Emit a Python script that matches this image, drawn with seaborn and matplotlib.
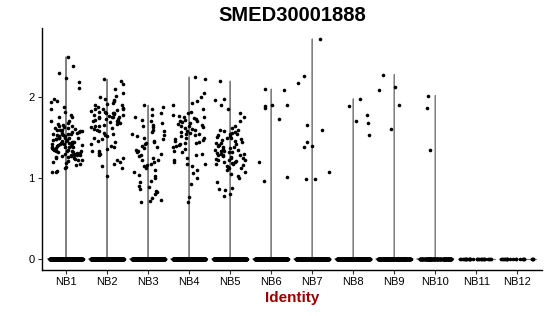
import numpy as np
import pandas as pd
import matplotlib
matplotlib.use("Agg")
import matplotlib.pyplot as plt
import seaborn as sns

title = "SMED30001888"
x_label = "Identity"
identities = ["NB1", "NB2", "NB3", "NB4", "NB5", "NB6", "NB7", "NB8", "NB9", "NB10", "NB11", "NB12"]
zero_counts = [420, 420, 420, 420, 420, 320, 320, 300, 260, 160, 30, 22]

nb1 = [2.50, 2.38, 2.30, 2.24, 2.19, 2.11, 1.98, 1.95, 1.94, 1.88, 1.86, 1.82, 1.78, 1.76, 1.75,
       1.71, 1.70, 1.68, 1.67, 1.66, 1.65, 1.64, 1.63, 1.62, 1.62, 1.61, 1.60, 1.60, 1.59, 1.58,
       1.58, 1.57, 1.57, 1.56, 1.56, 1.55, 1.55, 1.54, 1.54, 1.53, 1.53, 1.52, 1.52, 1.51, 1.51,
       1.50, 1.50, 1.50, 1.49, 1.49, 1.48, 1.48, 1.47, 1.47, 1.46, 1.46, 1.45, 1.45, 1.45, 1.44,
       1.44, 1.44, 1.43, 1.43, 1.42, 1.42, 1.42, 1.41, 1.41, 1.40, 1.40, 1.40, 1.39, 1.39, 1.38,
       1.38, 1.37, 1.37, 1.36, 1.36, 1.35, 1.35, 1.34, 1.34, 1.33, 1.33, 1.32, 1.32, 1.31, 1.31,
       1.30, 1.30, 1.29, 1.29, 1.28, 1.28, 1.27, 1.27, 1.26, 1.26, 1.25, 1.25, 1.24, 1.23, 1.22,
       1.21, 1.20, 1.19, 1.18, 1.16, 1.14, 1.13, 1.09, 1.07, 1.07]
nb2 = [2.22, 2.20, 2.16, 2.10, 2.05, 2.02, 2.00, 1.98, 1.96, 1.95, 1.93, 1.92, 1.90, 1.90, 1.88,
       1.87, 1.86, 1.85, 1.85, 1.84, 1.83, 1.82, 1.82, 1.81, 1.80, 1.80, 1.79, 1.78, 1.78, 1.77,
       1.76, 1.76, 1.75, 1.75, 1.74, 1.73, 1.73, 1.72, 1.71, 1.70, 1.70, 1.69, 1.68, 1.67, 1.66,
       1.65, 1.64, 1.63, 1.62, 1.61, 1.60, 1.58, 1.56, 1.55, 1.53, 1.52, 1.50, 1.48, 1.46, 1.45,
       1.42, 1.40, 1.38, 1.36, 1.34, 1.33, 1.31, 1.30, 1.28, 1.25, 1.22, 1.20, 1.18, 1.15, 1.12,
       1.02]
nb3 = [1.90, 1.88, 1.85, 1.80, 1.78, 1.75, 1.72, 1.70, 1.68, 1.66, 1.65, 1.63, 1.60, 1.58, 1.57,
       1.55, 1.53, 1.52, 1.50, 1.48, 1.46, 1.45, 1.43, 1.42, 1.40, 1.38, 1.37, 1.35, 1.33, 1.32,
       1.30, 1.28, 1.27, 1.25, 1.23, 1.22, 1.20, 1.18, 1.16, 1.15, 1.13, 1.10, 1.08, 1.04, 1.02,
       1.00, 0.97, 0.95, 0.90, 0.89, 0.87, 0.84, 0.83, 0.80, 0.75, 0.73, 0.72, 0.71]
nb4 = [2.25, 2.22, 2.05, 2.00, 1.95, 1.93, 1.90, 1.85, 1.82, 1.80, 1.78, 1.77, 1.76, 1.75, 1.74,
       1.73, 1.72, 1.71, 1.70, 1.69, 1.68, 1.67, 1.66, 1.65, 1.64, 1.63, 1.62, 1.61, 1.60, 1.58,
       1.57, 1.56, 1.55, 1.54, 1.53, 1.52, 1.50, 1.49, 1.48, 1.47, 1.46, 1.45, 1.44, 1.43, 1.42,
       1.41, 1.40, 1.38, 1.36, 1.34, 1.32, 1.30, 1.28, 1.25, 1.22, 1.20, 1.18, 1.17, 1.15, 1.10,
       1.06, 1.00, 0.93, 0.77, 0.70]
nb5 = [2.20, 1.98, 1.96, 1.90, 1.85, 1.80, 1.75, 1.70, 1.65, 1.62, 1.60, 1.59, 1.58, 1.57, 1.56,
       1.55, 1.54, 1.53, 1.52, 1.51, 1.50, 1.49, 1.48, 1.47, 1.46, 1.45, 1.44, 1.43, 1.42, 1.41,
       1.40, 1.39, 1.38, 1.37, 1.36, 1.35, 1.35, 1.34, 1.33, 1.32, 1.32, 1.31, 1.30, 1.30, 1.29,
       1.28, 1.28, 1.27, 1.26, 1.25, 1.25, 1.24, 1.23, 1.22, 1.22, 1.21, 1.20, 1.20, 1.19, 1.18,
       1.17, 1.16, 1.15, 1.14, 1.13, 1.12, 1.10, 1.08, 1.05, 1.02, 1.00, 0.95, 0.88, 0.86, 0.85,
       0.80, 0.78]
nb6 = [2.10, 2.09, 1.91, 1.90, 1.89, 1.87, 1.73, 1.20, 1.01, 0.96]
nb7 = [2.72, 2.26, 2.18, 1.66, 1.59, 1.45, 1.40, 1.38, 1.08, 0.99, 0.99]
nb8 = [1.98, 1.89, 1.78, 1.71, 1.68, 1.53]
nb9 = [2.28, 2.13, 2.09, 1.90, 1.61]
nb10 = [2.02, 1.87, 1.35]
nb11 = []
nb12 = []
nonzero = [nb1, nb2, nb3, nb4, nb5, nb6, nb7, nb8, nb9, nb10, nb11, nb12]

rows = []
for ident, nz, zc in zip(identities, nonzero, zero_counts):
    for v in list(nz) + [0.0] * zc:
        rows.append((ident, v))
df = pd.DataFrame(rows, columns=["ident", "expr"])
df["ident"] = pd.Categorical(df["ident"], categories=identities, ordered=True)

sns.set_theme(style="ticks")
plt.rcParams["font.family"] = ["Liberation Sans", "DejaVu Sans"]
plt.rcParams["text.color"] = "black"

fig = plt.figure(figsize=(5.5, 3.16), dpi=100)
ax = fig.add_axes([0.0755, 0.1456, 0.9100, 0.7658])

sns.violinplot(data=df, x="ident", y="expr", order=identities, ax=ax,
               density_norm="width", cut=0, bw_method=0.008, gridsize=400, inner=None,
               fill=False, color="#808080", linewidth=0.9, width=0.9)
np.random.seed(3)
sns.stripplot(data=df, x="ident", y="expr", order=identities, ax=ax,
              jitter=0.4, color="black", size=2.6, linewidth=0, zorder=3)

ax.set_xlim(-0.6, 11.6)
ax.set_ylim(-0.136, 2.856)
ax.set_yticks([0, 1, 2])
ax.set_yticklabels(["0", "1", "2"])
ax.tick_params(axis="both", labelsize=8, length=3, width=0.8, color="#333333", labelcolor="black", pad=2)
for s in ["left", "bottom"]:
    ax.spines[s].set_linewidth(1.0)
    ax.spines[s].set_color("black")
sns.despine(ax=ax)
ax.set_ylabel("")
ax.set_xlabel(x_label, fontsize=11, fontweight="bold", color="#990000", labelpad=3)
ax.set_title(title, fontsize=14.5, fontweight="bold", color="black", pad=5)

fig.savefig("out.png", dpi=100)
